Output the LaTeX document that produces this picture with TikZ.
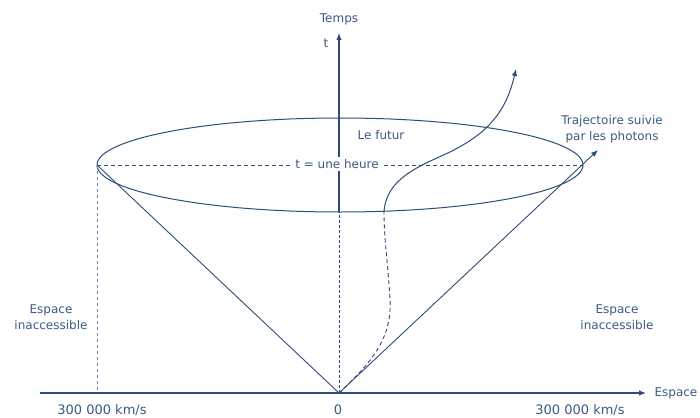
\documentclass[tikz,border=0pt]{standalone}
\usepackage{fontspec}
\setmainfont{DejaVu Sans}
\usetikzlibrary{arrows.meta}
\definecolor{ink}{HTML}{2E4D7B}
\definecolor{inklight}{HTML}{6A86AE}
\definecolor{label}{HTML}{3C5A86}

\begin{document}
\begin{tikzpicture}[x=1pt,y=-1pt,font=\fontsize{12}{16}\selectfont,text=label,line join=round]
\fill[white] (0,0) rectangle (700,417);
\useasboundingbox (0,0) rectangle (700,417);
\coordinate (o) at (339,393);
\coordinate (l) at (97,165);
\coordinate (r) at (583,165);
\coordinate (lb) at (97,393);
\coordinate (eb) at (339,212);
\coordinate (tb) at (384,212);
\coordinate (xa) at (40,393);
\coordinate (xb) at (646,393);
\coordinate (ta) at (339,33);
\coordinate (ph) at (598,150);
\coordinate (tr) at (516,69);
% axes
\draw[ink,line width=1.2pt,-{Latex[length=7pt,width=5.5pt]}] (xa)--(xb);
\draw[ink,line width=1pt,dash pattern=on 3pt off 2pt] (o)--(eb);
\draw[ink,line width=1.2pt,-{Latex[length=7pt,width=5.5pt]}] (eb)--(ta);
\node (temps) at (339,19) {Temps};
\node (t) at (326,43) {t};
\node[anchor=west] (espace) at (651,393) {Espace};
\node[font=\fontsize{13}{16}\selectfont] (km1) at (102,410) {300 000 km/s};
\node[font=\fontsize{13}{16}\selectfont] (zero) at (338,410) {0};
\node[font=\fontsize{13}{16}\selectfont] (km2) at (580,410) {300 000 km/s};
% cone
\draw[ink,line width=1pt] (340,165) ellipse[x radius=243,y radius=47];
\draw[ink,line width=0.9pt] (o)--(l);
\draw[ink,line width=0.9pt,-{Latex[length=7pt,width=5.5pt]}] (o)--(ph);
\draw[inklight,line width=0.7pt,dash pattern=on 3pt off 3pt] (l)--(lb);
\draw[ink,line width=0.9pt,dash pattern=on 4pt off 3pt] (l)--(r);
\node[fill=white,inner sep=2pt] (heure) at (337,164) {t = une heure};
\node (futur) at (381,135) {Le futur};
% trajectoire
\draw[ink,line width=0.9pt,dash pattern=on 4pt off 3pt] (o) .. controls (372,362) and (392,338) .. (390,300) .. controls (388,262) and (384,240) .. (tb);
\draw[ink,line width=1pt,-{Latex[length=7pt,width=5.5pt]}] (tb) .. controls (386,178) and (420,166) .. (450,152) .. controls (488,133) and (506,112) .. (tr);
\node[align=center] (photons) at (612,129) {Trajectoire suivie\\par les photons};
\node[align=center] (gauche) at (51,317) {Espace\\inaccessible};
\node[align=center] (droite) at (617,317) {Espace\\inaccessible};
\end{tikzpicture}
\end{document}
